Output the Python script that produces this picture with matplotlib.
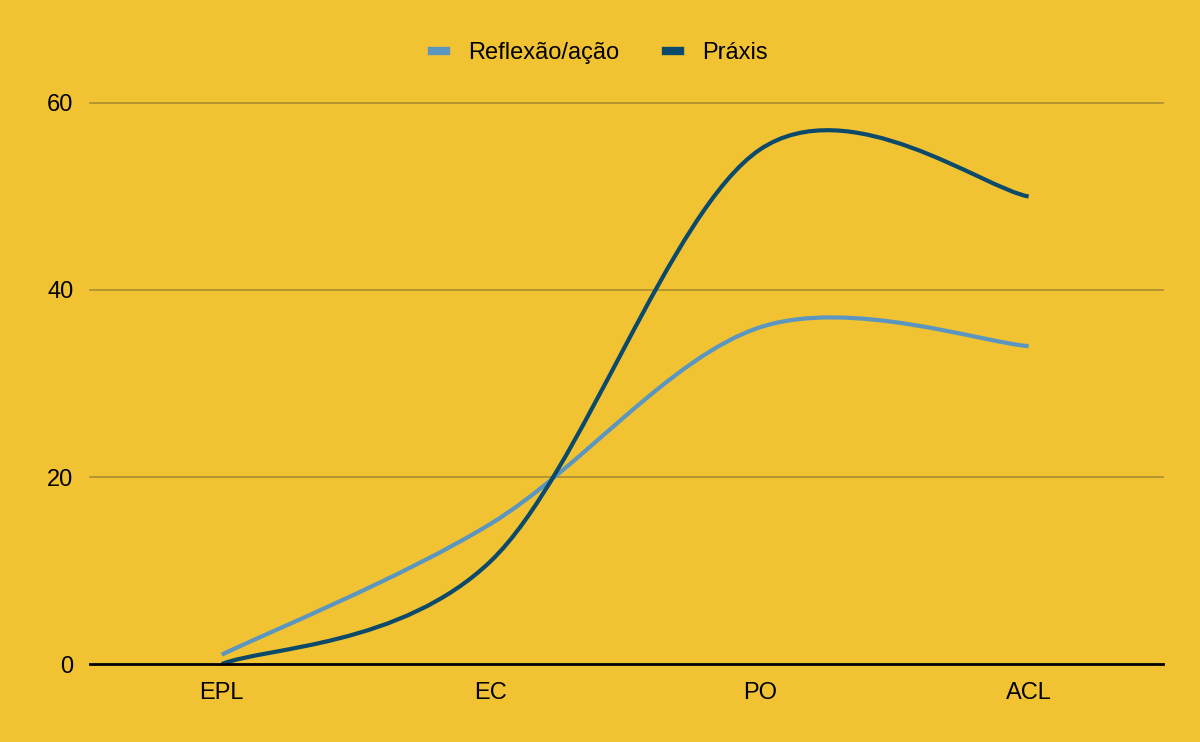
import numpy as np
import matplotlib
matplotlib.use('Agg')
import matplotlib.pyplot as plt
from matplotlib.path import Path
from matplotlib.patches import PathPatch
from matplotlib.lines import Line2D

plt.rcParams['font.family'] = ['Liberation Sans', 'DejaVu Sans']

categories = ['EPL', 'EC', 'PO', 'ACL']
reflexao = [1, 15, 36, 34]
praxis = [0, 11, 55, 50]
yticks = [0, 20, 40, 60]

BG = '#f1c232'
C_REF = '#5a96c0'
C_PRAX = '#0b4a6b'
GRID = '#a88c2e'

def smooth_path(xs, ys, k=1/6.):
    # cubic bezier through the points (catmull-rom style control points)
    p = np.column_stack([xs, ys]).astype(float)
    n = len(p)
    verts = [p[0]]; codes = [Path.MOVETO]
    for i in range(n-1):
        prev = p[max(i-1, 0)]; nxt = p[min(i+2, n-1)]
        c1 = p[i] + k*(p[i+1]-prev)
        c2 = p[i+1] - k*(nxt-p[i])
        verts += [c1, c2, p[i+1]]; codes += [Path.CURVE4]*3
    return Path(verts, codes)

fig = plt.figure(figsize=(12, 7.42), dpi=100, facecolor=BG)
ax = fig.add_axes([0.075, 0.1051, 0.8942, 0.7561], facecolor=BG)
x = np.arange(len(categories))

for ys, col in [(reflexao, C_REF), (praxis, C_PRAX)]:
    ax.add_patch(PathPatch(smooth_path(x, ys), fill=False, edgecolor=col, lw=3,
                           capstyle='butt', clip_on=False, zorder=3))

ax.set_xlim(-0.49, 3.5)
ax.set_ylim(0, 60)
ax.set_yticks(yticks)
ax.set_xticks(x)
ax.set_xticklabels(categories)
for yv in yticks[1:]:
    ax.axhline(yv, color=GRID, lw=1.2, zorder=1, clip_on=False)
ax.axhline(0, color='black', lw=2, zorder=4, clip_on=False)
for s in ax.spines.values():
    s.set_visible(False)
ax.tick_params(length=0, labelsize=17, colors='black')
ax.tick_params(axis='x', pad=13)
ax.tick_params(axis='y', pad=12)

handles = [Line2D([], [], color=C_REF, lw=6), Line2D([], [], color=C_PRAX, lw=6)]
fig.legend(handles, ['Reflexão/ação', 'Práxis'], loc='center', bbox_to_anchor=(0.5, 0.928),
           ncol=2, frameon=False, fontsize=17, handlelength=0.6, handletextpad=0.95,
           columnspacing=1.95)

fig.savefig('out.png', dpi=100, facecolor=BG)
